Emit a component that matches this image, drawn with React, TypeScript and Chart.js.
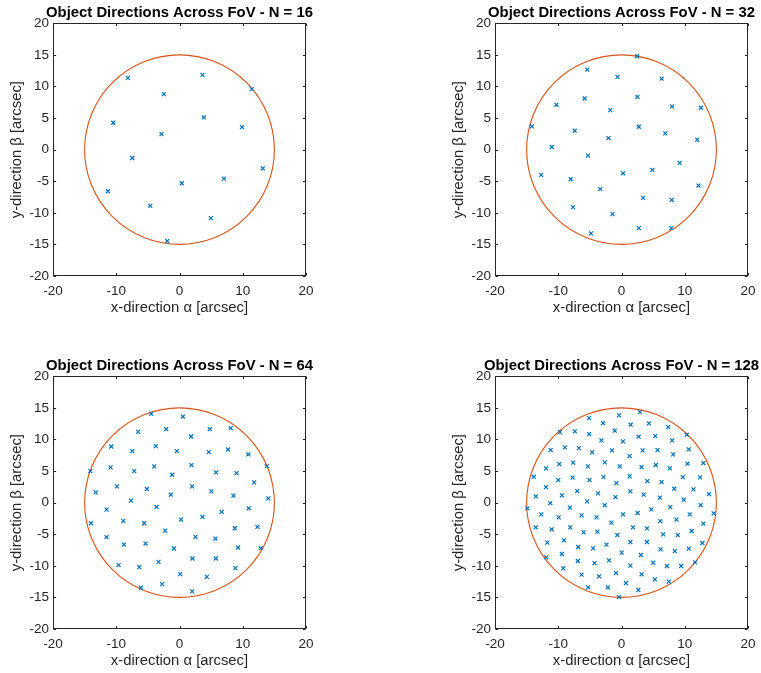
import React, { useEffect, useRef } from "react";
import { Chart, registerables } from "chart.js";

Chart.register(...registerables);

// ---------- data ----------
const FOV_RADIUS = 15;
const X_TICKS = [-20, -10, 0, 10, 20];
const Y_TICKS = [-20, -15, -10, -5, 0, 5, 10, 15, 20];

const n16X = [-8.16, 3.63, 11.42, -2.47, 3.84, -10.47, 9.89, -2.84, -7.47, 13.16, 7.0, 0.37, -11.32, -4.63, 4.95, -1.95];
const n16Y = [11.37, 11.84, 9.58, 8.79, 5.1, 4.26, 3.58, 2.47, -1.32, -2.95, -4.58, -5.32, -6.58, -8.89, -10.84, -14.47];

const n32X = [2.47, -5.41, -0.63, 6.35, -5.83, 2.52, -10.29, 7.98, 12.55, -1.78, -14.17, -7.4, 2.73, 6.93, -2.05, 11.97,
  -11.02, -5.3, 9.19, -12.7, 0.26, 4.88, -8.03, 12.18, -3.36, 3.41, 7.93, -7.66, -1.42, 2.73, 7.87, -4.83];
const n32Y = [14.79, 12.68, 11.53, 11.26, 8.1, 8.37, 7.1, 6.84, 6.63, 6.26, 3.68, 3.0, 3.63, 2.58, 1.84, 1.58,
  0.42, -0.95, -2.1, -4.0, -3.74, -3.21, -4.68, -5.68, -6.26, -7.63, -7.95, -9.1, -10.21, -12.42, -12.42, -13.26];

const n64X = [-4.47, 0.53, -6.53, -2.1, 4.79, 8.1, 1.84, -10.79, -7.47, -3.74, -0.42, 4.63, 7.68, 10.89, -14.1, -10.89,
  -7.16, -4.0, -1.16, 1.89, 5.79, 9.0, 13.79, -9.89, -5.16, -1.37, 2.0, 5.05, 8.53, 11.79, -13.26, -7.68,
  14.05, -11.53, -3.63, 6.68, 10.95, -14.0, -8.89, -5.58, 0.26, 3.63, 8.74, 12.32, -11.53, -8.79, -5.37, -2.26,
  2.53, 5.68, -0.89, 9.26, 12.84, -9.63, -6.37, -3.32, 2.05, 5.74, 8.84, 0.11, 4.32, -6.11, -2.74, 2.0];
const n64Y = [14.05, 13.63, 11.21, 11.63, 11.63, 11.79, 10.47, 8.89, 8.16, 8.95, 8.16, 8.0, 8.42, 7.63, 5.0, 5.58,
  5.0, 5.74, 4.42, 5.95, 4.79, 4.68, 5.79, 2.58, 2.16, 1.26, 2.58, 1.79, 1.1, 3.21, 1.63, 0.32,
  0.68, -1.1, -0.68, -1.47, -0.89, -3.26, -2.89, -3.26, -2.68, -2.26, -4.05, -3.84, -5.47, -6.63, -6.47, -4.42,
  -5.42, -5.68, -7.26, -7.1, -7.21, -9.89, -10.21, -9.37, -8.84, -8.84, -10.37, -11.32, -11.74, -13.47, -12.89, -14.05];

const n128X = [-0.39, -5.12, -2.91, -9.73, -7.37, -5.12, -1.07, -3.17, 0.24, -11.2, -8.94, -6.74, -4.64, -1.5, -11.94, -9.84,
  -7.64, -5.32, -2.65, -0.28, -13.87, -10.0, -7.73, -5.06, -2.85, -0.8, -11.94, -9.42, -7.0, -3.7, -13.56, -11.26,
  -5.43, -0.96, -2.65, 2.91, 1.45, 4.33, 7.38, 2.71, 5.33, 10.31, 8.01, 3.34, 5.7, 10.63, 1.29, 8.17,
  3.18, 5.43, 7.64, 10.43, 12.94, 1.29, 4.08, 6.33, 9.69, 12.43, 1.4, 8.33, 11.37, 3.5, 6.06, 9.84,
  13.84, -14.88, -12.68, -9.94, -8.16, -6.31, -3.95, -1.59, 0.24, -13.56, -11.04, -8.11, -6.0, -3.8, -0.65, -11.73,
  -9.1, -6.85, -4.49, -2.38, 0.03, -11.89, -9.42, -6.9, -4.27, -1.97, -9.21, -6.31, -3.54, -0.87, -5.28, -2.17,
  -0.39, 12.52, 2.55, 4.71, 6.13, 8.69, 10.79, 14.57, 12.94, 1.81, 4.02, 6.6, 8.9, 11.1, 1.4, 4.02,
  12.79, 6.17, 8.43, 10.63, 3.07, 5.02, 1.4, 7.17, 9.43, 11.64, 3.18, 5.28, 7.48, 0.71, 2.66, 7.7];
const n128Y = [13.81, 13.39, 12.6, 11.17, 11.28, 10.86, 11.39, 9.86, 9.7, 8.33, 8.75, 8.64, 7.96, 8.28, 5.43, 6.11,
  6.33, 5.74, 6.38, 5.74, 4.11, 3.58, 3.96, 3.58, 4.05, 3.1, 2.47, 1.16, 1.84, 1.47, 1.0, -0.06,
  0.21, 0.89, -0.4, 14.34, 12.34, 12.55, 11.96, 10.44, 10.54, 10.76, 9.86, 8.28, 8.33, 8.43, 7.38, 7.64,
  5.64, 5.96, 5.43, 6.17, 6.27, 4.16, 3.42, 3.26, 4.05, 4.0, 1.79, 2.21, 2.1, 1.27, 0.79, 0.47,
  1.36, -0.9, -1.85, -2.33, -0.79, -2.01, -2.33, -3.16, -1.85, -3.91, -4.22, -3.91, -4.7, -4.59, -5.13, -6.33,
  -5.96, -7.02, -7.23, -6.65, -7.91, -8.65, -8.13, -9.24, -9.56, -9.13, -10.4, -11.39, -11.66, -11.14, -13.4, -13.4,
  -14.94, -0.38, -1.64, -1.06, -2.91, -2.69, -1.85, -1.69, -3.32, -3.91, -4.07, -5.02, -5.13, -4.49, -6.23, -6.23,
  -6.39, -7.39, -7.66, -7.28, -8.29, -9.49, -9.97, -10.03, -10.03, -9.45, -11.34, -12.14, -12.5, -12.72, -13.83, -0.7];

const panels = [
  { n: 16, xs: n16X, ys: n16Y, left: 0, top: 0 },
  { n: 32, xs: n32X, ys: n32Y, left: 442, top: 0 },
  { n: 64, xs: n64X, ys: n64Y, left: 0, top: 353 },
  { n: 128, xs: n128X, ys: n128Y, left: 442, top: 353 },
];

// ---------- style ----------
const FONT = "'Liberation Sans', Arial, Helvetica, sans-serif";
const AXIS_COLOR = "#262626";
const POINT_COLOR = "#0072BD";
const CIRCLE_COLOR = "#D95319";
const CANVAS_W = 359;
const CANVAS_H = 321;
const Y_AXIS_W = 53;
const X_AXIS_H = 45;

const fovCirclePlugin = {
  id: "fovCircle",
  beforeDatasetsDraw(chart: any) {
    const { ctx, scales } = chart;
    const xs = scales.x, ys = scales.y;
    const cx = xs.getPixelForValue(0);
    const cy = ys.getPixelForValue(0);
    const rx = xs.getPixelForValue(FOV_RADIUS) - cx;
    const ry = cy - ys.getPixelForValue(FOV_RADIUS);
    ctx.save();
    ctx.strokeStyle = CIRCLE_COLOR;
    ctx.lineWidth = 1.1;
    ctx.beginPath();
    ctx.ellipse(cx, cy, rx, ry, 0, 0, Math.PI * 2);
    ctx.stroke();
    ctx.restore();
  },
};

const boxPlugin = {
  id: "matlabBox",
  afterDatasetsDraw(chart: any) {
    const { ctx, chartArea: a, scales } = chart;
    const tl = 2.6;
    ctx.save();
    ctx.strokeStyle = AXIS_COLOR;
    ctx.lineWidth = 1;
    const L = Math.round(a.left) + 0.5, R = Math.round(a.right) - 0.5;
    const T = Math.round(a.top) + 0.5, B = Math.round(a.bottom) - 0.5;
    ctx.strokeRect(L, T, R - L, B - T);
    ctx.beginPath();
    scales.x.ticks.forEach((t: any) => {
      const px = Math.round(scales.x.getPixelForValue(t.value)) + 0.5;
      ctx.moveTo(px, B); ctx.lineTo(px, B - tl);
      ctx.moveTo(px, T); ctx.lineTo(px, T + tl);
    });
    scales.y.ticks.forEach((t: any) => {
      const py = Math.round(scales.y.getPixelForValue(t.value)) + 0.5;
      ctx.moveTo(L, py); ctx.lineTo(L + tl, py);
      ctx.moveTo(R, py); ctx.lineTo(R - tl, py);
    });
    ctx.stroke();
    ctx.restore();
  },
};

function Panel({ n, xs, ys, left, top }: { n: number; xs: number[]; ys: number[]; left: number; top: number }) {
  const ref = useRef<HTMLCanvasElement | null>(null);
  useEffect(() => {
    if (!ref.current) return;
    const chart = new Chart(ref.current, {
      type: "scatter",
      data: {
        datasets: [
          {
            data: xs.map((x, i) => ({ x, y: ys[i] })),
            pointStyle: "crossRot",
            pointRadius: 2.8,
            pointBorderWidth: 1.2,
            borderColor: POINT_COLOR,
            backgroundColor: POINT_COLOR,
          },
        ],
      },
      options: {
        animation: false,
        responsive: false,
        devicePixelRatio: 1,
        layout: { padding: 0 },
        plugins: {
          legend: { display: false },
          tooltip: { enabled: false },
          title: {
            display: true,
            text: `Object Directions Across FoV - N = ${n}`,
            color: "#000000",
            font: { family: FONT, size: 14.85, weight: "bold", lineHeight: 1.2 },
            padding: { top: 3.8, bottom: 1.7 },
          },
        },
        scales: {
          x: {
            type: "linear",
            min: -20,
            max: 20,
            afterBuildTicks: (s: any) => { s.ticks = X_TICKS.map((v) => ({ value: v })); },
            grid: { display: false, drawTicks: false },
            border: { display: false },
            ticks: { color: AXIS_COLOR, padding: 6.7, font: { family: FONT, size: 13.5 }, maxRotation: 0 },
            title: {
              display: true,
              text: "x-direction α [arcsec]",
              color: AXIS_COLOR,
              font: { family: FONT, size: 14.85, lineHeight: 1.2 },
              padding: { top: 0, bottom: 4.2 },
            },
            afterFit: (s: any) => { s.height = X_AXIS_H; },
          },
          y: {
            type: "linear",
            position: "left",
            min: -20,
            max: 20,
            afterBuildTicks: (s: any) => { s.ticks = Y_TICKS.map((v) => ({ value: v })); },
            grid: { display: false, drawTicks: false },
            border: { display: false },
            ticks: { color: AXIS_COLOR, padding: 4, font: { family: FONT, size: 13.5 } },
            title: {
              display: true,
              text: "y-direction β [arcsec]",
              color: AXIS_COLOR,
              font: { family: FONT, size: 14.85, lineHeight: 1.2 },
              padding: { top: 8, bottom: 0 },
            },
            afterFit: (s: any) => { s.width = Y_AXIS_W; },
          },
          yRight: {
            type: "linear",
            position: "right",
            display: true,
            grid: { display: false, drawTicks: false },
            border: { display: false },
            ticks: { display: false },
            afterFit: (s: any) => { s.width = Y_AXIS_W; },
          },
        },
      },
      plugins: [fovCirclePlugin, boxPlugin],
    } as any);
    return () => chart.destroy();
  }, [n, xs, ys]);

  return (
    <canvas
      ref={ref}
      width={CANVAS_W}
      height={CANVAS_H}
      style={{ position: "absolute", left, top, width: CANVAS_W, height: CANVAS_H }}
    />
  );
}

export default function App() {
  return (
    <div
      style={{
        position: "absolute",
        left: 0,
        top: 0,
        width: 761,
        height: 673,
        overflow: "hidden",
        background: "#ffffff",
      }}
    >
      {panels.map((p) => (
        <Panel key={p.n} n={p.n} xs={p.xs} ys={p.ys} left={p.left} top={p.top} />
      ))}
    </div>
  );
}
